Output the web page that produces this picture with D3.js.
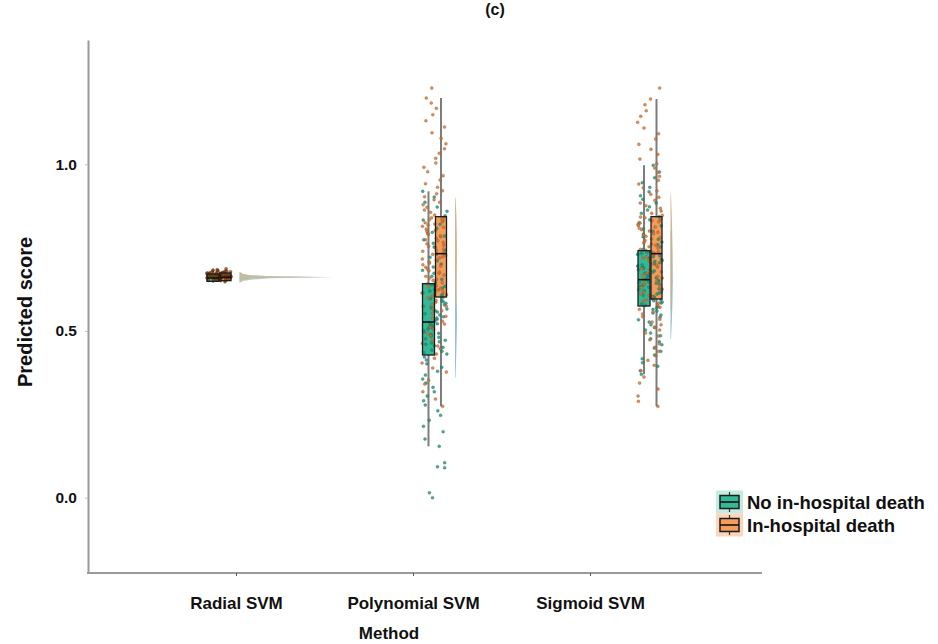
<!DOCTYPE html>
<html>
<head>
<meta charset="utf-8">
<script src="https://cdn.jsdelivr.net/npm/d3@7"></script>
<style>
  body { margin: 0; background: #fff; }
  svg { display: block; }
  text { font-family: "Liberation Sans", Arial, sans-serif; font-weight: bold; fill: #111; }
</style>
</head>
<body>
<svg id="chart" width="938" height="644"></svg>
<script>
// ---- data -------------------------------------------------------------
const methods = ["Radial SVM", "Polynomial SVM", "Sigmoid SVM"];
const groups = ["No in-hospital death", "In-hospital death"];
const yTicks = [0.0, 0.5, 1.0];

// predicted scores, patients without in-hospital death
const radialNoDeath = [.648,.651,.653,.654,.655,.656,.657,.658,.658,.659,.659,.66,.66,.661,.661,.662,.662,.663,.663,.663,
  .664,.664,.665,.665,.666,.666,.667,.667,.668,.669,.67,.671,.672,.673,.674,.676,.678,.68,.683,.687];
const polyNoDeath = [0,.015,.09,.093,.105,
  .154,.176,.198,.214,.232,.247,.261,.278,.291,.305,.318,.331,.344,.356,.368,.379,.391,.402,.413,.422,
  .431,.435,.439,.443,.447,.451,.456,.46,.464,.468,.472,.477,.481,.485,.489,.493,.497,.501,.506,.51,.513,.516,.519,.522,.525,
  .53,.535,.539,.543,.548,.552,.557,.561,.566,.57,.574,.579,.583,.588,.592,.597,.601,.606,.61,.615,.62,.624,.629,.634,.639,
  .646,.655,.664,.673,.682,.692,.701,.711,.721,.731,.742,.752,.763,.774,.785,.796,.808,.82,.833,.846,.859,.872,.886,.902,.919];
const sigNoDeath = [.37,.381,.394,.405,.417,.428,.439,.449,.459,.468,.477,.486,.494,.503,.511,.519,.527,.534,.541,.548,.554,.56,.565,.57,.573,
  .577,.581,.584,.587,.591,.594,.597,.601,.604,.607,.611,.614,.617,.621,.624,.627,.631,.634,.637,.64,.643,.646,.648,.65,.652,
  .656,.66,.663,.667,.67,.674,.677,.681,.684,.688,.691,.695,.698,.702,.705,.709,.712,.716,.719,.723,.726,.73,.733,.736,.739,
  .745,.752,.759,.767,.775,.783,.791,.799,.807,.816,.825,.834,.843,.853,.863,.873,.884,.895,.906,.918,.931,.945,.96,.977,.997];

// predicted scores, patients with in-hospital death
const radialDeath = [.652,.655,.657,.658,.659,.66,.661,.661,.662,.663,.663,.664,.664,.665,.665,.666,.666,.667,.667,.668,
  .668,.669,.669,.67,.67,.671,.671,.672,.672,.673,.673,.674,.675,.676,.677,.678,.679,.68,.682,.684];
const polyDeath = [.274,.296,.318,.341,.352,.377,.389,.404,.418,.431,.447,.455,.463,.472,.486,.493,.505,.512,.521,.529,.538,.544,.553,.561,.566,.574,.579,.586,.592,.599,
  .605,.609,.614,.618,.623,.627,.633,.636,.641,.645,.652,.655,.659,.664,.668,.673,.677,.681,.686,.691,.695,.699,.704,.708,.712,.716,.719,.723,.727,.73,
  .735,.739,.742,.746,.751,.754,.758,.762,.766,.771,.774,.778,.783,.786,.79,.794,.799,.802,.806,.811,.814,.818,.821,.825,.828,.831,.834,.837,.84,.842,
  .848,.856,.863,.871,.879,.886,.894,.903,.912,.921,.931,.942,.953,.966,.978,.991,1.004,1.018,1.033,1.047,1.062,1.078,1.095,1.112,1.131,1.149,1.168,1.184,1.199,1.229];
const sigDeath = [.274,.289,.305,.326,.344,.362,.381,.397,.412,.426,.439,.451,.462,.474,.485,.494,.503,.511,.519,.527,.535,.543,.551,.558,.565,.571,.578,.584,.589,.594,
  .598,.603,.607,.612,.617,.622,.626,.631,.636,.64,.645,.65,.655,.659,.664,.668,.673,.678,.683,.687,.692,.697,.701,.706,.71,.715,.719,.723,.727,.731,
  .734,.738,.742,.745,.749,.753,.757,.761,.764,.768,.772,.776,.78,.784,.788,.792,.796,.8,.804,.808,.812,.816,.82,.824,.828,.831,.834,.837,.84,.842,
  .847,.853,.86,.868,.876,.884,.892,.901,.91,.92,.93,.941,.952,.964,.976,.989,1.002,1.016,1.03,1.045,1.06,1.076,1.092,1.109,1.126,1.144,1.161,1.179,1.196,1.229];

// box summaries per method: [lower whisker, Q1, median, Q3, upper whisker]
const boxNoDeath = [[.645,.649,.659,.671,.68], [.154,.428,.527,.642,.919], [.370,.575,.654,.741,.997]];
const boxDeath   = [[.647,.651,.661,.674,.683], [.274,.602,.732,.843,1.199], [.274,.596,.732,.843,1.196]];

// half-violin density profiles per method: [score, density]
const densNoDeath = [
  [[.645,0],[.65,4],[.654,14],[.658,40],[.661,120],[.664,38],[.667,13],[.671,4],[.676,0]],
  [[.36,0],[.40,.6],[.45,1.2],[.50,1.7],[.54,1.9],[.60,1.6],[.66,1.1],[.72,0]],
  [[.476,0],[.52,.9],[.58,1.8],[.65,2.3],[.72,1.7],[.80,0]]
];
const densDeath = [
  [[.648,0],[.653,4],[.657,12],[.66,36],[.662,108],[.665,34],[.668,11],[.672,3],[.677,0]],
  [[.57,0],[.62,1.1],[.68,1.7],[.74,1.9],[.80,1.6],[.85,1.1],[.90,0]],
  [[.566,0],[.62,1.1],[.69,1.8],[.74,2.0],[.80,1.5],[.86,.8],[.91,0]]
];

const scoresNoDeath = [radialNoDeath, polyNoDeath, sigNoDeath];
const scoresDeath = [radialDeath, polyDeath, sigDeath];

// ---- styling ----------------------------------------------------------
const boxFill = ["#34b896", "#f49c5c"];
const dotFill = ["#20937a", "#d07632"];
const dotStroke = ["#135c4b", "#874414"];
const violinFill = ["#8fbfc6", "#cdb28c"];
const haloFill = ["#c4ebdf", "#f9d6bc"];

// ---- scales -----------------------------------------------------------
const svg = d3.select("#chart");
const y = d3.scaleLinear().domain([-0.226, 1.373]).range([573, 40]);
const axisX = d3.scalePoint().domain(methods).range([236, 590]);
const cloudX = d3.scalePoint().domain(methods).range([219, 650]);
const densW = d3.scaleLinear().domain([0, 120]).range([0, 94]);
const boxSpan = [[-12, 0], [1, 12]];   // horizontal extent of each group's box around the method centre
const violinOffset = 21;

// deterministic jitter for dot placement
const jitter = (i, s) => { const v = Math.sin(i * 12.9898 + s * 78.233) * 43758.5453; return v - Math.floor(v); };

// ---- axes -------------------------------------------------------------
const yAxis = svg.append("g").attr("transform", "translate(88,0)")
  .call(d3.axisLeft(y).tickValues(yTicks).tickFormat(d3.format(".1f")).tickSize(3).tickSizeOuter(0).tickPadding(8));
yAxis.select(".domain").attr("stroke", "#9a9a9a").attr("stroke-width", 2);
yAxis.selectAll(".tick line").attr("stroke", "#bbb");
yAxis.selectAll(".tick text").style("font-size", "15.5px").attr("fill", "#111");

svg.append("line").attr("x1", 87).attr("x2", 762).attr("y1", 573).attr("y2", 573)
  .attr("stroke", "#9a9a9a").attr("stroke-width", 2);

const xAxis = svg.append("g").attr("transform", "translate(0,573)")
  .call(d3.axisBottom(axisX).tickSize(3).tickPadding(21));
xAxis.select(".domain").remove();
xAxis.selectAll(".tick line").attr("stroke", "#555");
xAxis.selectAll(".tick text").style("font-size", "17px").attr("fill", "#111");

svg.append("text").attr("x", 389).attr("y", 639).attr("text-anchor", "middle")
  .style("font-size", "17px").text("Method");
svg.append("text").attr("transform", "translate(32,312) rotate(-90)").attr("text-anchor", "middle")
  .style("font-size", "20px").text("Predicted score");
svg.append("text").attr("x", 495).attr("y", 15).attr("text-anchor", "middle")
  .style("font-size", "16px").text("(c)");

// ---- half violins -----------------------------------------------------
const plot = svg.append("g");
methods.forEach((m, mi) => {
  const base = cloudX(m) + violinOffset;
  [densNoDeath[mi], densDeath[mi]].forEach((prof, gi) => {
    const area = d3.area().curve(d3.curveLinear)
      .y(d => y(d[0])).x0(base - 0.5).x1(d => base + densW(d[1]));
    plot.append("path").datum(prof).attr("d", area)
      .attr("fill", violinFill[gi]).attr("fill-opacity", mi === 0 ? 0.7 : 0.95);
  });
});

// ---- boxes, whiskers and dots -----------------------------------------
methods.forEach((m, mi) => {
  const cx = cloudX(m);
  const boxes = [boxNoDeath[mi], boxDeath[mi]];
  const scores = [scoresNoDeath[mi], scoresDeath[mi]];

  // whiskers
  boxes.forEach((b, gi) => {
    const wx = cx + (boxSpan[gi][0] + boxSpan[gi][1]) / 2;
    plot.append("line").attr("x1", wx).attr("x2", wx).attr("y1", y(b[0])).attr("y2", y(b[4]))
      .attr("stroke", "#7d7d7d").attr("stroke-width", 2);
  });
  // box fills
  boxes.forEach((b, gi) => {
    plot.append("rect").attr("x", cx + boxSpan[gi][0]).attr("width", boxSpan[gi][1] - boxSpan[gi][0])
      .attr("y", y(b[3])).attr("height", y(b[1]) - y(b[3])).attr("fill", boxFill[gi]);
  });
  // jittered dots
  scores.forEach((vals, gi) => {
    plot.append("g").selectAll("circle").data(vals).join("circle")
      .attr("cx", (d, i) => cx - 12.5 + 25 * jitter(i + 1, mi * 2 + gi + 1))
      .attr("cy", d => y(d))
      .attr("r", 1.5)
      .attr("fill", mi === 0 ? "#8a4513" : dotFill[gi]).attr("fill-opacity", 0.8)
      .attr("stroke", mi === 0 ? "#3d1c05" : dotStroke[gi]).attr("stroke-width", 0.4).attr("stroke-opacity", 0.7);
  });
  // box outlines and medians
  boxes.forEach((b, gi) => {
    const x0 = cx + boxSpan[gi][0], x1 = cx + boxSpan[gi][1];
    plot.append("rect").attr("x", x0).attr("width", x1 - x0)
      .attr("y", y(b[3])).attr("height", y(b[1]) - y(b[3]))
      .attr("fill", "none").attr("stroke", "#1d1d1d").attr("stroke-width", 1.3);
    plot.append("line").attr("x1", x0).attr("x2", x1).attr("y1", y(b[2])).attr("y2", y(b[2]))
      .attr("stroke", "#111").attr("stroke-width", 1.6);
  });
});

// ---- legend -----------------------------------------------------------
const legend = svg.append("g");
const legY = d3.scalePoint().domain(groups).range([502, 525]);
groups.forEach((g, gi) => {
  const cy = legY(g);
  const row = legend.append("g");
  row.append("rect").attr("x", 716).attr("y", cy - 11.5).attr("width", 27).attr("height", 23).attr("fill", haloFill[gi]);
  row.append("line").attr("x1", 729.5).attr("x2", 729.5).attr("y1", cy - 10).attr("y2", cy + 10)
    .attr("stroke", "#333").attr("stroke-width", 1.2);
  row.append("rect").attr("x", 720).attr("y", cy - 6.5).attr("width", 19).attr("height", 13)
    .attr("fill", boxFill[gi]).attr("stroke", "#1d1d1d").attr("stroke-width", 1.5);
  row.append("line").attr("x1", 720).attr("x2", 739).attr("y1", cy).attr("y2", cy)
    .attr("stroke", "#111").attr("stroke-width", 1.6);
  row.append("text").attr("x", 747).attr("y", cy + 7).style("font-size", "18.5px").text(g);
});
</script>
</body>
</html>
